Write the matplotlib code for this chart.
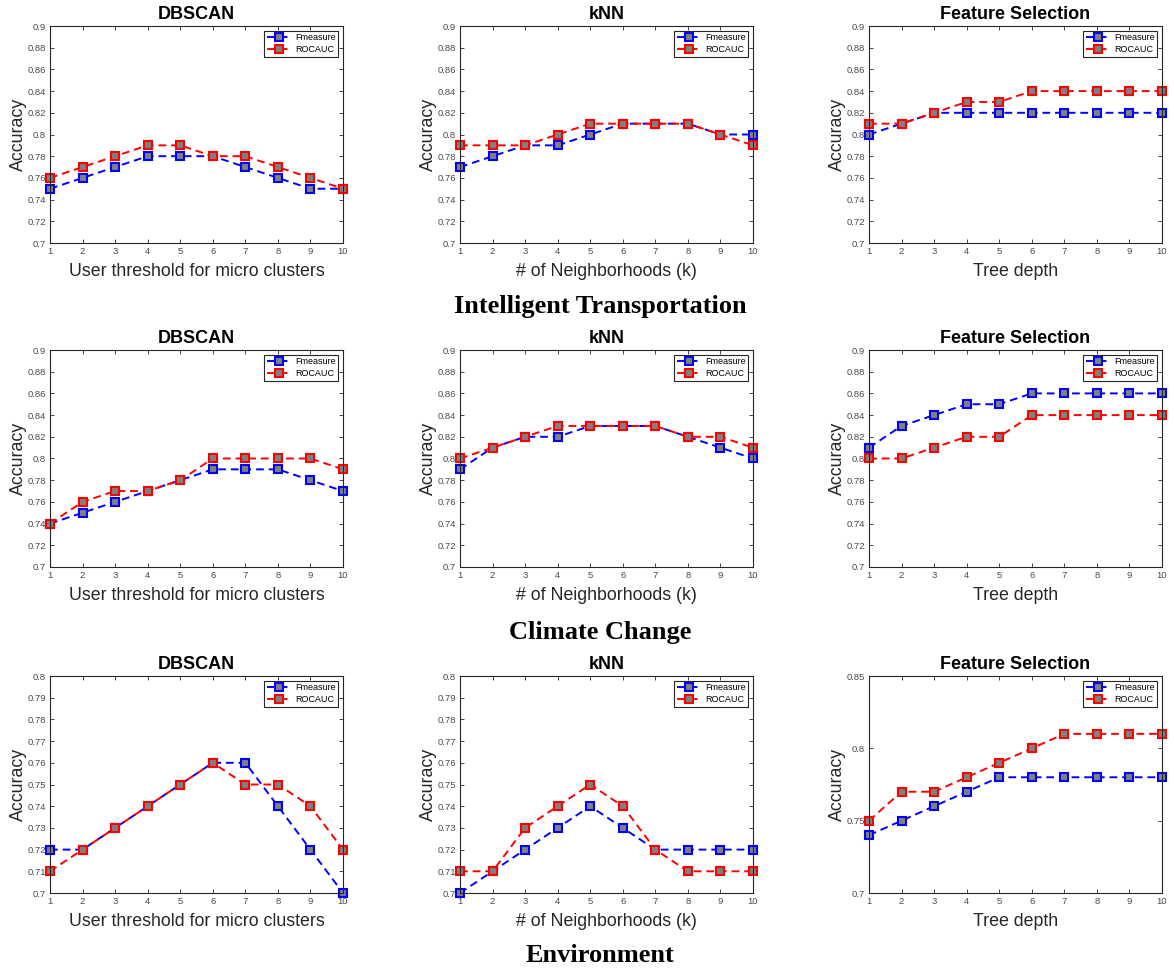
import numpy as np
import matplotlib
matplotlib.use('Agg')
import matplotlib.pyplot as plt
from matplotlib.ticker import FuncFormatter

plt.rcParams['font.family'] = ['Liberation Sans', 'DejaVu Sans']

x = [1, 2, 3, 4, 5, 6, 7, 8, 9, 10]

# Intelligent Transportation
it_dbscan_f = [0.75, 0.76, 0.77, 0.78, 0.78, 0.78, 0.77, 0.76, 0.75, 0.75]
it_dbscan_r = [0.76, 0.77, 0.78, 0.79, 0.79, 0.78, 0.78, 0.77, 0.76, 0.75]
it_knn_f = [0.77, 0.78, 0.79, 0.79, 0.80, 0.81, 0.81, 0.81, 0.80, 0.80]
it_knn_r = [0.79, 0.79, 0.79, 0.80, 0.81, 0.81, 0.81, 0.81, 0.80, 0.79]
it_fs_f = [0.80, 0.81, 0.82, 0.82, 0.82, 0.82, 0.82, 0.82, 0.82, 0.82]
it_fs_r = [0.81, 0.81, 0.82, 0.83, 0.83, 0.84, 0.84, 0.84, 0.84, 0.84]

# Climate Change
cc_dbscan_f = [0.74, 0.75, 0.76, 0.77, 0.78, 0.79, 0.79, 0.79, 0.78, 0.77]
cc_dbscan_r = [0.74, 0.76, 0.77, 0.77, 0.78, 0.80, 0.80, 0.80, 0.80, 0.79]
cc_knn_f = [0.79, 0.81, 0.82, 0.82, 0.83, 0.83, 0.83, 0.82, 0.81, 0.80]
cc_knn_r = [0.80, 0.81, 0.82, 0.83, 0.83, 0.83, 0.83, 0.82, 0.82, 0.81]
cc_fs_f = [0.81, 0.83, 0.84, 0.85, 0.85, 0.86, 0.86, 0.86, 0.86, 0.86]
cc_fs_r = [0.80, 0.80, 0.81, 0.82, 0.82, 0.84, 0.84, 0.84, 0.84, 0.84]

# Environment
env_dbscan_f = [0.72, 0.72, 0.73, 0.74, 0.75, 0.76, 0.76, 0.74, 0.72, 0.70]
env_dbscan_r = [0.71, 0.72, 0.73, 0.74, 0.75, 0.76, 0.75, 0.75, 0.74, 0.72]
env_knn_f = [0.70, 0.71, 0.72, 0.73, 0.74, 0.73, 0.72, 0.72, 0.72, 0.72]
env_knn_r = [0.71, 0.71, 0.73, 0.74, 0.75, 0.74, 0.72, 0.71, 0.71, 0.71]
env_fs_f = [0.74, 0.75, 0.76, 0.77, 0.78, 0.78, 0.78, 0.78, 0.78, 0.78]
env_fs_r = [0.75, 0.77, 0.77, 0.78, 0.79, 0.80, 0.81, 0.81, 0.81, 0.81]

titles = ['DBSCAN', 'kNN', 'Feature Selection']
xlabels = ['User threshold for micro clusters', '# of Neighborhoods (k)', 'Tree depth']
groups = ['Intelligent Transportation', 'Climate Change', 'Environment']

rows = [
    [(it_dbscan_f, it_dbscan_r), (it_knn_f, it_knn_r), (it_fs_f, it_fs_r)],
    [(cc_dbscan_f, cc_dbscan_r), (cc_knn_f, cc_knn_r), (cc_fs_f, cc_fs_r)],
    [(env_dbscan_f, env_dbscan_r), (env_knn_f, env_knn_r), (env_fs_f, env_fs_r)],
]
yticks = [
    [np.arange(0.70, 0.901, 0.02)] * 3,
    [np.arange(0.70, 0.901, 0.02)] * 3,
    [np.arange(0.70, 0.801, 0.01), np.arange(0.70, 0.801, 0.01), np.arange(0.70, 0.851, 0.05)],
]

W, H = 1174, 971
fig = plt.figure(figsize=(W / 100, H / 100), dpi=100)

col_left = [50, 460, 869]
ax_w = 293
row_top = [26, 350, 676]
ax_h = 217
group_y = [306, 632, 955]

fmt = FuncFormatter(lambda v, p: ('%.2f' % v).rstrip('0').rstrip('.'))

for r in range(3):
    for c in range(3):
        left = col_left[c] / W
        bottom = 1 - (row_top[r] + ax_h) / H
        ax = fig.add_axes([left, bottom, ax_w / W, ax_h / H])
        f, roc = rows[r][c]
        ax.plot(x, f, '--s', color='blue', lw=1.4, ms=5.5, mfc='#808080',
                mec='blue', mew=1.5, label='Fmeasure', clip_on=False, dashes=(4, 2.5))
        ax.plot(x, roc, '--s', color='red', lw=1.4, ms=5.5, mfc='#808080',
                mec='red', mew=1.5, label='ROCAUC', clip_on=False, dashes=(4, 2.5))
        yt = yticks[r][c]
        ax.set_xlim(1, 10)
        ax.set_ylim(yt[0], yt[-1])
        ax.set_xticks(x)
        ax.set_yticks(yt)
        ax.yaxis.set_major_formatter(fmt)
        ax.tick_params(direction='in', length=3, width=0.6, labelsize=6.8,
                       colors='#262626', labelcolor='#4a4a4a', top=True, right=True, pad=3)
        for s in ax.spines.values():
            s.set_color('#262626')
            s.set_linewidth(0.8)
        ax.set_title(titles[c], fontsize=13, fontweight='bold', pad=5)
        ax.set_xlabel(xlabels[c], fontsize=12.8, color='#262626', labelpad=5)
        ax.set_ylabel('Accuracy', fontsize=12.8, color='#262626', labelpad=0)
        leg = ax.legend(loc='upper right', fontsize=6.5, handlelength=2.6,
                        borderaxespad=0.5, fancybox=False, framealpha=1,
                        borderpad=0.3, labelspacing=0.3, handletextpad=0.5)
        leg.get_frame().set_edgecolor('#262626')
        leg.get_frame().set_linewidth(0.8)
    fig.text(600 / W, 1 - group_y[r] / H, groups[r], ha='center', va='center',
             fontsize=19, fontweight='bold', family='Liberation Serif')

fig.savefig('out.png', dpi=100)
